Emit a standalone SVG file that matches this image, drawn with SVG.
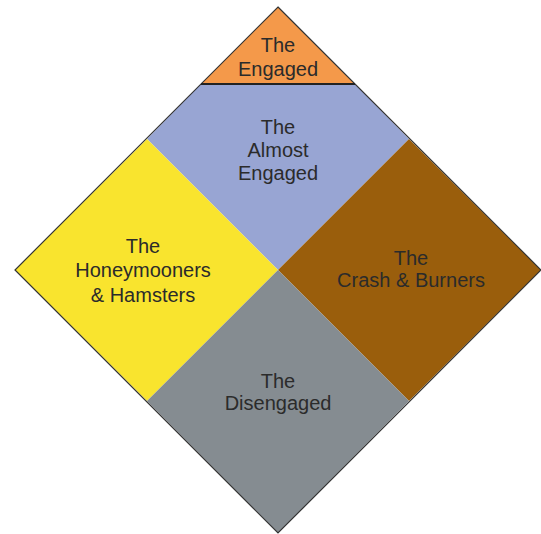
<svg xmlns="http://www.w3.org/2000/svg" width="541" height="534" viewBox="0 0 541 534">
  <style>
    .lbl { font-family: "Liberation Sans", Arial, sans-serif; font-size: 20px; fill: #2b2b2b; text-anchor: middle; }
    .edge { fill: none; stroke: #333; stroke-width: 1.2; }
  </style>
  <rect width="541" height="534" fill="#ffffff"/>

  <!-- quadrants of the diamond (centre 278,270) -->
  <g id="almost-engaged">
    <polygon points="201,84 355,84 409,139 278,270 147,139" fill="#98a5d3"/>
    <text class="lbl" x="278" y="134">The</text>
    <text class="lbl" x="278" y="157">Almost</text>
    <text class="lbl" x="278" y="180">Engaged</text>
  </g>
  <g id="engaged">
    <polygon points="278,7 355,84 201,84" fill="#f4994a"/>
    <text class="lbl" x="278" y="52">The</text>
    <text class="lbl" x="278" y="76">Engaged</text>
  </g>
  <g id="honeymooners">
    <polygon points="15,270 147,139 278,270 147,401" fill="#f9e42e"/>
    <text class="lbl" x="143" y="253">The</text>
    <text class="lbl" x="143" y="277">Honeymooners</text>
    <text class="lbl" x="143" y="302">&amp; Hamsters</text>
  </g>
  <g id="crash-burners">
    <polygon points="278,270 409,139 541,270 409,401" fill="#9a5e0c"/>
    <text class="lbl" x="411" y="265">The</text>
    <text class="lbl" x="411" y="287">Crash &amp; Burners</text>
  </g>
  <g id="disengaged">
    <polygon points="278,270 409,401 278,533 147,401" fill="#858c91"/>
    <text class="lbl" x="278" y="388">The</text>
    <text class="lbl" x="278" y="410">Disengaged</text>
  </g>

  <!-- outline and divider -->
  <g id="connectors">
    <polygon class="edge" points="278,7 541,270 278,533 15,270"/>
    <line x1="201" y1="84" x2="355" y2="84" stroke="#222" stroke-width="2"/>
  </g>
</svg>
